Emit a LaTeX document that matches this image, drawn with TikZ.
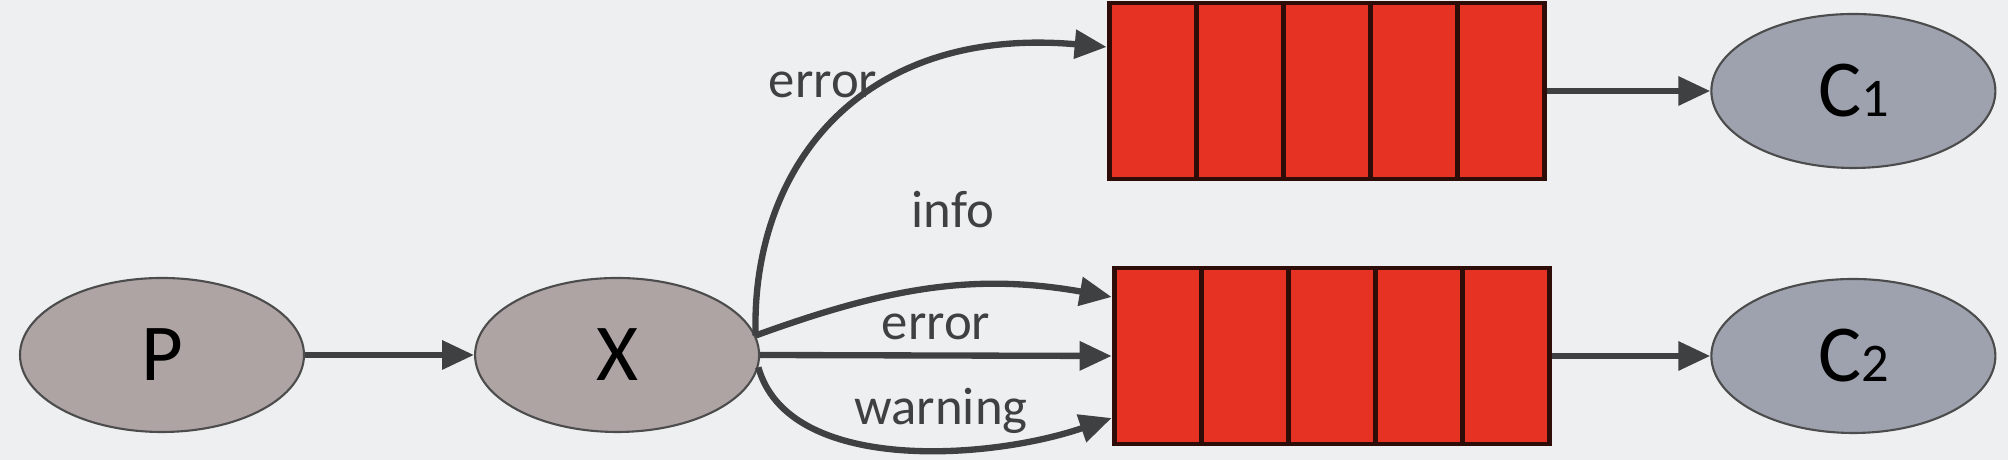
\documentclass[tikz,border=0pt]{standalone}
\usepackage{fontspec}
\setmainfont{Carlito}
\usepackage{xcolor}
\definecolor{BGCOLOR}{HTML}{EEEFF1}
\definecolor{PRODCOLOR}{HTML}{AFA4A4}
\definecolor{CONSCOLOR}{HTML}{9EA2AE}
\definecolor{QUEUECOLOR}{HTML}{E63222}
\definecolor{QUEUELINE}{HTML}{2E0C08}
\definecolor{ARROWCOLOR}{HTML}{3F4041}
\usepackage{tikz}
\usetikzlibrary{shapes,arrows.meta,positioning,calc,matrix}
\tikzset{
  basic-style/.style = {
    ellipse, draw=gray!60!black, line width=0.6pt,
    fill=#1,
    minimum width=2.84cm,
    minimum height=1.54cm,
    inner sep=0pt,
    font=\fontsize{23}{23}\selectfont
  },
  prod-style/.style = {
    basic-style=PRODCOLOR
  },
  cons-style/.style = {
    basic-style=CONSCOLOR
  },
  cell-style/.style = {
    rectangle, draw=QUEUELINE, line width=1.2pt, fill=QUEUECOLOR,
    minimum width=0.87cm, minimum height=1.76cm, inner sep=0pt
  },
  key-style/.style = {
    anchor=base, text=ARROWCOLOR, inner sep=0pt,
    font=\fontsize{15}{15}\selectfont
  },
  every edge/.style = {draw, -{Triangle[length=0.32cm,width=0.28cm]},
    line width=1.8pt, ARROWCOLOR}
}
\newcommand\digit[1]{{\fontsize{15.5}{15.5}\selectfont #1}}
\newcommand\createQueue[2]{
  \matrix [
    matrix of nodes,
    ampersand replacement=\&,
    inner sep=0pt,
    nodes={cell-style},
    column sep=-1.2pt,
  ] (q#1) at #2 {
    {}\& {}\& {}\& {}\& {}\\
  };
}

\begin{document}
\begin{tikzpicture}
    \fill[BGCOLOR] (0,0) rectangle (20.08,4.6);
    \useasboundingbox (0,0) rectangle (20.08,4.6);

    %%% producer and exchange
    \node[prod-style] (P) at (1.62,1.05) {P};
    \node[prod-style,right=1.69cm of P] (X) {X};

    %%% queues
    \createQueue{1}{(13.27,3.69)}
    \createQueue{2}{(13.32,1.04)}

    %%% consumers
    \node[cons-style,right=1.63cm of q1] (C1) {C\digit{1}};
    \node[cons-style,right=1.58cm of q2] (C2) {C\digit{2}};

    %%% bindings
    \node[key-style] (kError1) at (8.23,3.62) {error};
    \node[key-style] (kInfo) at (9.53,2.32) {info};
    \node[key-style] (kError2) at (9.36,1.20) {error};
    \node[key-style] (kWarning) at (9.41,0.35) {warning};

    %%% arrows
    \path (P.east) edge (X.west);
    \path (X.8) edge[to path={.. controls +(-0.05,1.63) and +(-2.51,0.22) .. (\tikztotarget)}]
      ([yshift=0.44cm]q1.west);
    \path (X.8) edge[out=20,in=170] ([yshift=0.59cm]q2.west);
    \path (X.east) edge (q2.west);
    \path (X.-5) edge[to path={.. controls +(0.3,-1.07) and +(-1.22,-0.42) .. (\tikztotarget)}]
      ([yshift=-0.62cm]q2.west);
    \path (q1.east) edge (C1.west);
    \path (q2.east) edge (C2.west);
  \end{tikzpicture}
\end{document}
